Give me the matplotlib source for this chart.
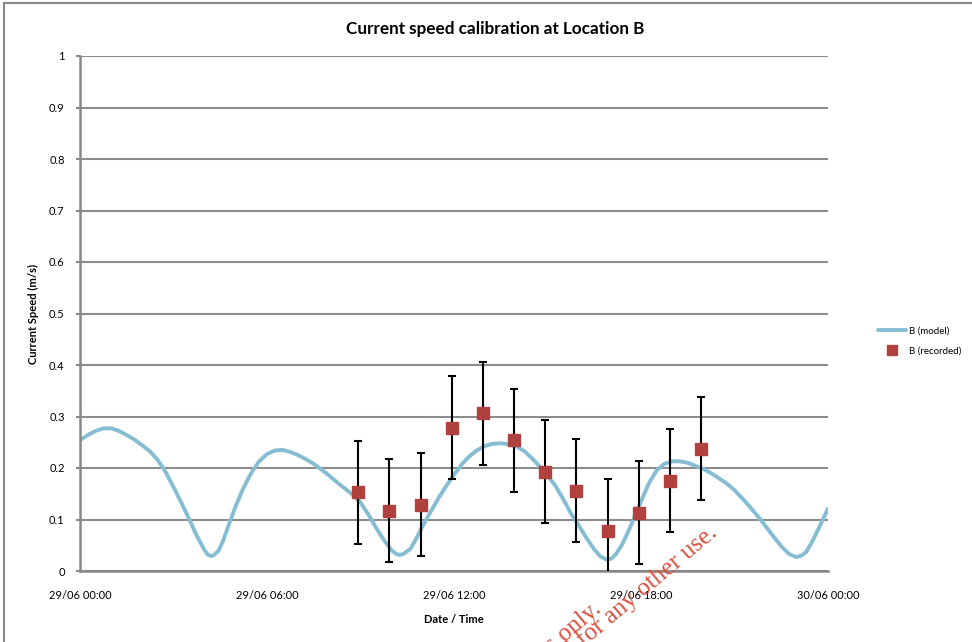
import matplotlib
matplotlib.use("Agg")
import matplotlib.pyplot as plt
from matplotlib.lines import Line2D

plt.rcParams['font.family'] = ['Lato', 'DejaVu Sans']

# model curve (hours after 29/06 00:00, speed m/s)
model_hours = [0.00, 0.25, 0.50, 0.75, 1.00, 1.25, 1.50, 1.75, 2.00, 2.25, 2.50, 2.75, 3.00,
               3.25, 3.50, 3.75, 4.00, 4.10, 4.20, 4.30, 4.45, 4.60, 4.80, 5.00, 5.25, 5.50,
               5.75, 6.00, 6.25, 6.50, 6.75, 7.00, 7.25, 7.50, 7.75, 8.00, 8.25, 8.50, 8.75,
               9.00, 9.25, 9.50, 9.75, 10.00, 10.15, 10.27, 10.40, 10.60, 10.80, 11.00,
               11.25, 11.50, 11.75, 12.00, 12.25, 12.50, 12.75, 13.00, 13.25, 13.50, 13.75,
               14.00, 14.25, 14.50, 14.75, 15.00, 15.25, 15.50, 15.75, 16.00, 16.25, 16.50,
               16.70, 16.90, 17.05, 17.20, 17.40, 17.60, 17.80, 18.00, 18.25, 18.50, 18.75,
               19.00, 19.25, 19.50, 19.75, 20.00, 20.25, 20.50, 20.75, 21.00, 21.25, 21.50,
               21.75, 22.00, 22.25, 22.50, 22.75, 22.98, 23.15, 23.30, 23.50, 23.75, 24.00]
model_speed = [0.254, 0.264, 0.272, 0.277, 0.277, 0.272, 0.264, 0.255, 0.244, 0.232, 0.215,
               0.192, 0.163, 0.133, 0.101, 0.068, 0.040, 0.032, 0.029, 0.031, 0.040, 0.060,
               0.094, 0.127, 0.162, 0.191, 0.213, 0.227, 0.234, 0.235, 0.231, 0.225, 0.217,
               0.208, 0.197, 0.185, 0.172, 0.160, 0.148, 0.133, 0.110, 0.084, 0.060, 0.040,
               0.033, 0.031, 0.034, 0.043, 0.064, 0.088, 0.115, 0.141, 0.165, 0.187, 0.207,
               0.223, 0.235, 0.243, 0.247, 0.248, 0.246, 0.242, 0.233, 0.219, 0.203, 0.185,
               0.166, 0.140, 0.112, 0.089, 0.064, 0.042, 0.028, 0.022, 0.024, 0.033, 0.052,
               0.078, 0.106, 0.135, 0.170, 0.195, 0.208, 0.213, 0.213, 0.210, 0.204, 0.198,
               0.190, 0.180, 0.170, 0.157, 0.141, 0.124, 0.106, 0.087, 0.067, 0.048, 0.033,
               0.027, 0.030, 0.037, 0.058, 0.089, 0.121]

# recorded values with +/- 0.1 m/s bars
rec_hours = [8.93, 9.93, 10.93, 11.93, 12.93, 13.93, 14.93, 15.93, 16.93, 17.93, 18.93, 19.93]
rec_speed = [0.153, 0.117, 0.129, 0.278, 0.306, 0.254, 0.193, 0.156, 0.078, 0.113, 0.175, 0.237]
rec_err = [0.1] * 12

tick_hours = [0, 6, 12, 18, 24]
tick_labels = ["29/06 00:00", "29/06 06:00", "29/06 12:00", "29/06 18:00", "30/06 00:00"]

fig = plt.figure(figsize=(9.72, 6.42), dpi=100)
ax = fig.add_axes([80/972, 71/642, 748/972, 515/642])

ax.plot(model_hours, model_speed, color='#86bdd3', lw=2.8, label='B (model)',
        solid_capstyle='round', solid_joinstyle='round', zorder=2)
ax.errorbar(rec_hours, rec_speed, yerr=rec_err, fmt='none', ecolor='black',
            elinewidth=1.5, capsize=3.2, capthick=1.5, zorder=3)
ax.plot(rec_hours, rec_speed, 's', color='#b0413e', ms=8.5, ls='none',
        label='B (recorded)', zorder=4)

ax.set_xlim(0, 24)
ax.set_ylim(0, 1)
ax.set_xticks(tick_hours)
ax.set_xticklabels(tick_labels)
ax.set_yticks([i/10 for i in range(11)])
ax.set_yticklabels(['0'] + [f'{i/10:.1f}' for i in range(1, 10)] + ['1'])
ax.tick_params(axis='x', length=0, pad=14, labelsize=8)
ax.tick_params(axis='y', length=3, color='#888888', width=1.5, pad=8, labelsize=8)
ax.grid(axis='y', color='#8c8c8c', lw=1.5)
ax.set_axisbelow(True)
for s in ['top', 'right']:
    ax.spines[s].set_visible(False)
for s in ['left', 'bottom']:
    ax.spines[s].set_color('#888888')
    ax.spines[s].set_linewidth(1.8)

ax.set_xlabel('Date / Time', fontsize=8, fontweight='bold', labelpad=9)
ax.set_ylabel('Current Speed (m/s)', fontsize=8, fontweight='bold', labelpad=7)
fig.text(495/972, 1 - 29/642, 'Current speed calibration at Location B',
         ha='center', va='center', fontsize=12.3, fontweight='bold')

fig.legend(loc='center left', bbox_to_anchor=(878/972, 1 - 341/642), frameon=False,
           fontsize=7, handlelength=2.9, handletextpad=0.3, labelspacing=1.1,
           borderpad=0, borderaxespad=0, markerscale=0.8)

# chart border
fig.add_artist(Line2D([4/972, 1], [1 - 3/642, 1 - 3/642], color='#888888', lw=1.5))
fig.add_artist(Line2D([4/972, 4/972], [0, 1 - 3/642], color='#888888', lw=1.5))

# watermark
wm = dict(color='#d9503f', fontsize=18, family=['Liberation Serif', 'DejaVu Serif'],
          rotation=40, rotation_mode='anchor', ha='right', va='baseline', zorder=10)
fig.text(602/972, 1 - 611/642, 'For inspection purposes only.', **wm)
fig.text(718/972, 1 - 535/642, 'Consent of copyright owner required for any other use.', **wm)

fig.savefig('out.png', dpi=100)
